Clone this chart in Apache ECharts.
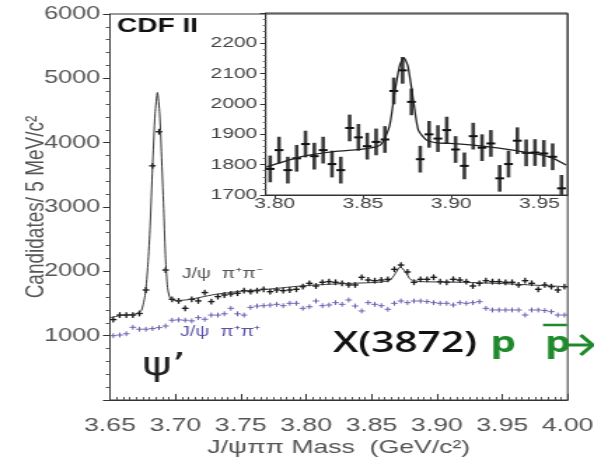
<!DOCTYPE html>
<html>
<head>
<meta charset="utf-8">
<script src="https://cdn.jsdelivr.net/npm/echarts@6/dist/echarts.min.js"></script>
<style>
  html, body { margin: 0; padding: 0; background: #fff; overflow: hidden; }
  /* the original picture is stretched sideways, so the chart is drawn narrow and widened */
  #main { width: 424px; height: 461px; transform: scaleX(1.4009); transform-origin: 0 0; }
</style>
</head>
<body>
<div id="main"></div>
<script>
// bin centres of the full mass plot (GeV/c^2), 5 MeV bins
var massMain = [
  3.6525, 3.6575, 3.6625, 3.6675, 3.6725, 3.6775, 3.6825, 3.6875, 3.6925, 3.6975,
  3.7025, 3.7075, 3.7125, 3.7175, 3.7225, 3.7275, 3.7325, 3.7375, 3.7425, 3.7475,
  3.7525, 3.7575, 3.7625, 3.7675, 3.7725, 3.7775, 3.7825, 3.7875, 3.7925, 3.7975,
  3.8025, 3.8075, 3.8125, 3.8175, 3.8225, 3.8275, 3.8325, 3.8375, 3.8425, 3.8475,
  3.8525, 3.8575, 3.8625, 3.8675, 3.8725, 3.8775, 3.8825, 3.8875, 3.8925, 3.8975,
  3.9025, 3.9075, 3.9125, 3.9175, 3.9225, 3.9275, 3.9325, 3.9375, 3.9425, 3.9475,
  3.9525, 3.9575, 3.9625, 3.9675, 3.9725, 3.9775, 3.9825, 3.9875, 3.9925, 3.9975
];
// J/psi pi+ pi- candidates
var oppositeSign = [
  1250, 1320, 1320, 1320, 1345, 1710, 3640, 4170, 2020, 1565,
  1540, 1425, 1565, 1540, 1670, 1530, 1607, 1632, 1648, 1660,
  1700, 1684, 1700, 1721, 1684, 1710, 1700, 1710, 1721, 1762,
  1814, 1772, 1830, 1840, 1830, 1814, 1788, 1788, 1907, 1865,
  1855, 1865, 1876, 2031, 2098, 1990, 1830, 1876, 1876, 1907,
  1840, 1830, 1876, 1865, 1840, 1772, 1814, 1855, 1840, 1840,
  1830, 1830, 1788, 1855, 1814, 1721, 1788, 1762, 1710, 1762
];
// J/psi pi+ pi+ (same sign) candidates
var sameSign = [
  1000, 1010, 1030, 1130, 1100, 1100, 1110, 1125, 1150, 1240,
  1245, 1240, 1230, 1280, 1255, 1320, 1320, 1340, 1425, 1340,
  1320, 1440, 1460, 1466, 1475, 1487, 1466, 1503, 1503, 1425,
  1450, 1539, 1466, 1477, 1513, 1487, 1555, 1461, 1384, 1513,
  1487, 1466, 1410, 1503, 1539, 1513, 1539, 1539, 1530, 1513,
  1503, 1503, 1477, 1513, 1503, 1513, 1529, 1425, 1399, 1399,
  1399, 1399, 1399, 1321, 1399, 1399, 1390, 1373, 1321, 1321
];
// fit curve of the main plot
var fitMainX = [3.650, 3.660, 3.670, 3.674, 3.677, 3.679, 3.6807, 3.6825, 3.6845, 3.6863,
  3.688, 3.6896, 3.6912, 3.6925, 3.694, 3.696, 3.700, 3.710, 3.720, 3.730,
  3.750, 3.770, 3.800, 3.830, 3.855, 3.864, 3.868, 3.872, 3.876, 3.880,
  3.888, 3.920, 3.950, 3.980, 4.000];
var fitMainY = [1280, 1320, 1340, 1390, 1650, 2100, 2700, 3600, 4450, 4780,
  4450, 3700, 2900, 2200, 1750, 1580, 1545, 1560, 1600, 1640,
  1690, 1720, 1780, 1810, 1830, 1860, 1960, 2070, 1990, 1870,
  1840, 1830, 1810, 1780, 1760];

// inset: zoom on the X(3872)
var massInset = [
  3.7975, 3.8025, 3.8075, 3.8125, 3.8175, 3.8225, 3.8275, 3.8325, 3.8375, 3.8425,
  3.8475, 3.8525, 3.8575, 3.8625, 3.8675, 3.8725, 3.8775, 3.8825, 3.8875, 3.8925,
  3.8975, 3.9025, 3.9075, 3.9125, 3.9175, 3.9225, 3.9275, 3.9325, 3.9375, 3.9425,
  3.9475, 3.9525, 3.9575, 3.9625
];
var countsInset = [
  1786, 1848, 1782, 1821, 1868, 1828, 1848, 1802, 1782, 1921,
  1890, 1861, 1875, 1883, 2043, 2111, 2007, 1818, 1900, 1886,
  1914, 1850, 1796, 1894, 1856, 1870, 1755, 1802, 1879, 1839,
  1840, 1837, 1826, 1722
];
var fitInsetX = [3.7955, 3.8146, 3.8334, 3.8523, 3.860, 3.865, 3.8682, 3.871, 3.8733, 3.8755,
  3.8786, 3.8814, 3.8861, 3.892, 3.8992, 3.918, 3.9369, 3.9557, 3.9651];
var fitInsetY = [1793, 1826, 1843, 1853, 1865, 1925, 2045, 2130, 2152, 2125,
  2012, 1914, 1881, 1872, 1870, 1861, 1846, 1826, 1799];
var insetTicks = [3.80, 3.85, 3.90, 3.95];

var binWidth = 0.005;
var errMain = 45, errSame = 38, errInset = 44;

function crosses(color, width, vColor, vWidth) {
  return function (params, api) {
    var x = api.value(0), y = api.value(1), e = api.value(2);
    var c = api.coord([x, y]);
    var l = api.coord([x - binWidth / 2, y]);
    var r = api.coord([x + binWidth / 2, y]);
    var t = api.coord([x, y + e]);
    var b = api.coord([x, y - e]);
    return {
      type: 'group',
      children: [
        { type: 'line', shape: { x1: c[0], y1: t[1], x2: c[0], y2: b[1] }, style: { stroke: vColor, lineWidth: vWidth } },
        { type: 'line', shape: { x1: l[0], y1: c[1], x2: r[0], y2: c[1] }, style: { stroke: color, lineWidth: width } }
      ]
    };
  };
}

var chart = echarts.init(document.getElementById('main'));
var font = 'Liberation Sans, Arial, sans-serif';
var green = '#1f8a2c';

var option = {
  animation: false,
  textStyle: { fontFamily: font },
  grid: [
    { left: 78.5, top: 14, width: 326.7, height: 386, outerBoundsMode: 'none', show: true, borderColor: '#333', borderWidth: 1 },
    { left: 189.7, top: 13, width: 215.5, height: 182, outerBoundsMode: 'none', show: true, borderColor: '#333', borderWidth: 1 }
  ],
  xAxis: [
    {
      gridIndex: 0, type: 'value', min: 3.65, max: 4.00, interval: 0.05,
      axisLine: { lineStyle: { color: '#333' } },
      axisTick: { inside: true, length: 6, lineStyle: { color: '#333' } },
      minorTick: { show: true, splitNumber: 10, length: 3, lineStyle: { color: '#555' } },
      splitLine: { show: false },
      axisLabel: { margin: 16, fontSize: 19, color: '#555', formatter: function (v) { return v.toFixed(2); } },
      name: 'J/ψππ Mass  (GeV/c²)', nameLocation: 'middle', nameGap: 38, nameMoveOverlap: false,
      nameTextStyle: { fontSize: 19, color: '#555' }
    },
    {
      gridIndex: 1, type: 'value', min: 3.795, max: 3.966,
      axisLine: { lineStyle: { color: '#333' } },
      axisTick: { customValues: insetTicks, length: 4, lineStyle: { color: '#333' } },
      splitLine: { show: false },
      axisLabel: { customValues: insetTicks, margin: 1, fontSize: 15, color: '#444', formatter: function (v) { return v.toFixed(2); } }
    }
  ],
  yAxis: [
    {
      gridIndex: 0, type: 'value', min: 0, max: 6000, interval: 1000,
      axisLine: { show: true, lineStyle: { color: '#333' } },
      axisTick: { show: true, length: 5, lineStyle: { color: '#333' } },
      minorTick: { show: true, splitNumber: 5, length: 3, lineStyle: { color: '#555' } },
      splitLine: { show: false },
      axisLabel: { margin: 7, fontSize: 18, color: '#555', formatter: function (v) { return v === 0 ? '' : v; } },
      name: 'Candidates/ 5 MeV/c²', nameLocation: 'middle', nameGap: 43, nameMoveOverlap: false,
      nameTextStyle: { fontSize: 19, color: '#555' }
    },
    {
      gridIndex: 1, type: 'value', min: 1700, max: 2300, interval: 100,
      axisLine: { show: true, lineStyle: { color: '#333' } },
      axisTick: { show: true, length: 4, lineStyle: { color: '#333' } },
      minorTick: { show: true, splitNumber: 5, length: 2, lineStyle: { color: '#666' } },
      splitLine: { show: false },
      axisLabel: { margin: 6, fontSize: 15, color: '#444', formatter: function (v) { return v >= 2300 ? '' : v; } }
    }
  ],
  series: [
    {
      type: 'line', xAxisIndex: 0, yAxisIndex: 0, showSymbol: false, smooth: 0.2,
      lineStyle: { color: '#333', width: 1 },
      data: fitMainX.map(function (x, i) { return [x, fitMainY[i]]; })
    },
    {
      type: 'custom', xAxisIndex: 0, yAxisIndex: 0, clip: true,
      renderItem: crosses('#6a62b0', 1, '#6a62b0', 1),
      data: massMain.map(function (m, i) { return [m, sameSign[i], errSame]; })
    },
    {
      type: 'custom', xAxisIndex: 0, yAxisIndex: 0, clip: true,
      renderItem: crosses('#1a1a1a', 1.4, '#1a1a1a', 1.3),
      data: massMain.map(function (m, i) { return [m, oppositeSign[i], errMain]; })
    },
    {
      type: 'line', xAxisIndex: 1, yAxisIndex: 1, showSymbol: false, smooth: 0.2,
      lineStyle: { color: '#222', width: 1.3 },
      data: fitInsetX.map(function (x, i) { return [x, fitInsetY[i]]; })
    },
    {
      type: 'custom', xAxisIndex: 1, yAxisIndex: 1, clip: true,
      renderItem: crosses('#111', 2, '#3a3a3a', 2.6),
      data: massInset.map(function (m, i) { return [m, countsInset[i], errInset]; })
    }
  ],
  graphic: [
    { type: 'text', left: 83.5, top: 16, style: { text: 'CDF II', font: 'bold 20px ' + font, fill: '#111' } },
    { type: 'text', x: 129.7, y: 274, style: { text: 'J/ψ  π⁺π⁻', font: '14px ' + font, fill: '#555', verticalAlign: 'middle' } },
    { type: 'text', x: 128.5, y: 332, style: { text: 'J/ψ  π⁺π⁺', font: '14px ' + font, fill: '#5a52a8', verticalAlign: 'middle' } },
    { type: 'text', x: 101.4, y: 367, style: { text: 'ψ’', font: '32px DejaVu Sans', fill: '#222', verticalAlign: 'middle' } },
    { type: 'text', x: 237.7, y: 344, style: { text: 'X(3872)', font: '600 29px Open Sans', fill: '#111', verticalAlign: 'middle' } },
    { type: 'text', x: 350, y: 344, style: { text: 'p', font: 'bold 29px Open Sans', fill: green, verticalAlign: 'middle' } },
    { type: 'text', x: 389, y: 344, style: { text: 'p', font: 'bold 29px Open Sans', fill: green, verticalAlign: 'middle' } },
    { type: 'line', shape: { x1: 387.6, y1: 325, x2: 404.7, y2: 325 }, style: { stroke: green, lineWidth: 2.5 } },
    { type: 'polyline', shape: { points: [[403.3, 345], [423, 345]] }, style: { stroke: green, lineWidth: 3, fill: null } },
    { type: 'polyline', shape: { points: [[414.5, 335], [423, 345], [414.5, 355]] }, style: { stroke: green, lineWidth: 3, fill: null } }
  ]
};
chart.setOption(option);
</script>
</body>
</html>
